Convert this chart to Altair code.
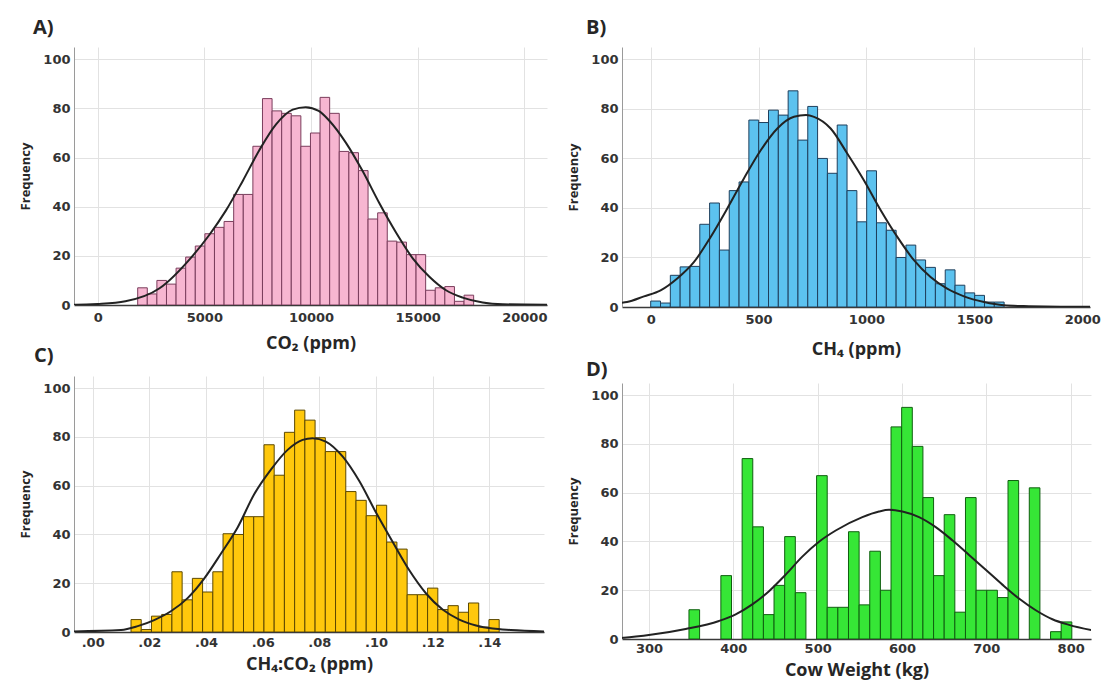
import altair as alt
import pandas as pd

# ---------------- data ----------------
# Panel A: CO2 (ppm)
CO2_BIN_START = 1875
CO2_BIN_WIDTH = 450
CO2_COUNTS = [7, 4.5, 10, 8.5, 15, 19.5, 24, 29, 31.6, 34, 45, 45, 64.6, 84, 79, 78, 77,
              64.6, 70, 84.5, 78, 62.5, 62, 54.7, 35, 37.5, 26, 25.6, 20.5, 20.5, 6, 7,
              7.5, 1.5, 4]
CO2_CURVE_X = [-1111, -1000, 0, 1300, 2900, 4450, 5230, 6015, 6800, 7576, 8360, 9140, 9750,
               10360, 10860, 11640, 12420, 13200, 13985, 14770, 15550, 16330, 17110, 18050,
               19000, 21064]
CO2_CURVE_Y = [0.1, 0.1, 0.4, 1.5, 6.8, 20, 28.5, 38.5, 50.5, 63, 73.5, 79.5, 80.5, 79, 75,
               66, 54.5, 41.5, 29.5, 19, 11.5, 6, 3, 1, 0.3, 0.1]
CO2_TICKS = [0, 5000, 10000, 15000, 20000]

# Panel B: CH4 (ppm)
CH4_BIN_START = 0
CH4_BIN_WIDTH = 45.5
CH4_COUNTS = [2.4, 1.6, 12.8, 16.2, 16.4, 33.4, 42, 23, 47, 50.5, 75.5, 74.5, 79.5, 77.5,
              87.3, 67.4, 81, 60, 54, 73.5, 47, 34.4, 55, 34, 31, 20, 25, 19, 16, 9.4, 15,
              8.8, 5.7, 4.7, 2, 2]
CH4_CURVE_X = [-133, -110, -31, 46, 123, 201, 278, 355, 432, 510, 587, 664, 720, 757, 834,
               911, 988, 1066, 1143, 1220, 1297, 1374, 1452, 1545, 1637, 1753, 1900, 2036]
CH4_CURVE_Y = [1.7, 2, 4.3, 6.7, 11.5, 18.2, 28.3, 39.8, 51.9, 63.3, 72.1, 76.8, 77.5,
               76.8, 72.1, 62, 51.2, 39.1, 28.3, 18.9, 12.1, 7.4, 4.3, 2, 0.7, 0.3, 0.1, 0.1]
CH4_TICKS = [0, 500, 1000, 1500, 2000]

# Panel C: CH4:CO2 (ppm)
RATIO_BIN_START = 0.01352
RATIO_BIN_WIDTH = 0.00361
RATIO_COUNTS = [5.1, 1, 6.5, 7.2, 24.7, 13.2, 22, 16.4, 24.7, 40.3, 40, 47.3, 47.3, 76.8,
                64.3, 81.9, 91, 86.9, 79.7, 74, 74, 57.6, 54, 47.7, 52, 36.9, 34, 15.3,
                15.3, 18, 9.2, 10.8, 8.1, 11.9, 2, 5.1]
RATIO_CURVE_X = [-0.0088, 0.0100, 0.0159, 0.0217, 0.0276, 0.0335, 0.0394, 0.0453, 0.0512,
                 0.0570, 0.0629, 0.0688, 0.0741, 0.0776, 0.0823, 0.0882, 0.0941, 0.1000,
                 0.1059, 0.1117, 0.1176, 0.1235, 0.1294, 0.1353, 0.1412, 0.1476, 0.1594]
RATIO_CURVE_Y = [0.2, 0.8, 2.4, 4.9, 8.5, 13.9, 22, 32.2, 43, 56.5, 66.6, 74.7, 78.8, 79.5,
                 78.1, 72, 61.9, 49, 36.9, 25.4, 15.9, 9.2, 5.1, 2.7, 1.4, 0.8, 0.2]
RATIO_TICKS = [0.00, 0.02, 0.04, 0.06, 0.08, 0.10, 0.12, 0.14]

# Panel D: Cow Weight (kg)
WEIGHT_BIN_START = 347.4
WEIGHT_BIN_WIDTH = 12.61
WEIGHT_COUNTS = [12, 0, 0, 26, 0, 74, 46, 10, 22, 42, 19, 0, 67, 13, 13, 44, 14, 36, 20,
                 87, 95, 79, 58, 26, 51, 11, 58, 20, 20, 17, 65, 0, 62, 0, 3, 7]
WEIGHT_CURVE_X = [268, 270.4, 303.9, 343.5, 383, 402.8, 422.5, 442.3, 462.1, 481.8, 501.6,
                  521.4, 553, 572.7, 584.6, 600.4, 620.2, 640, 659.7, 679.5, 699.3, 719,
                  738.7, 758.6, 778.3, 798, 825]
WEIGHT_CURVE_Y = [0.45, 0.5, 1.8, 4.1, 7.4, 10.1, 14.2, 19.6, 26.4, 33.8, 39.9, 44.5, 50,
                  52.3, 53, 52.3, 50, 45.9, 40.5, 34.5, 28.4, 22.3, 16.6, 11.8, 8.1, 5.8, 3.6]
WEIGHT_TICKS = [300, 400, 500, 600, 700, 800]

FREQ_TICKS = [0, 20, 40, 60, 80, 100]

TITLE_FONT = "Open Sans"
LABEL_FONT = "DejaVu Sans"
TEXT = "#262626"


def panel(letter, title_dx, title_offset, start, bw, counts, cx, cy, domain, ticks,
          xtitle, fill, stroke, width, height, label_expr=None, x_label_pad=6,
          x_title_pad=6):
    bars = pd.DataFrame({
        "x0": [start + i * bw for i in range(len(counts))],
        "x1": [start + (i + 1) * bw for i in range(len(counts))],
        "count": counts,
        "base": [0] * len(counts),
    })
    bars = bars[bars["count"] > 0]
    curve = pd.DataFrame({"cx": cx, "cy": cy})

    xaxis_kw = dict(
        values=ticks, title=xtitle, grid=True, gridColor="#e2e2e2", ticks=False,
        domainColor="#3a3a3a", domainWidth=1.5, labelFont=LABEL_FONT,
        labelFontSize=13, labelFontWeight="bold", labelColor="#333333",
        labelPadding=x_label_pad, titleFont=TITLE_FONT, titleFontSize=18,
        titleFontWeight="bold", titleColor=TEXT, titlePadding=x_title_pad,
        labelFlush=False,
    )
    if label_expr:
        xaxis_kw["labelExpr"] = label_expr
    else:
        xaxis_kw["format"] = "d"
    xscale = alt.Scale(domain=domain, nice=False, zero=False)
    yscale = alt.Scale(domain=[0, 105], nice=False)
    yaxis = alt.Axis(
        values=FREQ_TICKS, title="Frequency", grid=True, gridColor="#e2e2e2",
        ticks=False, domainColor="#9a9a9a", labelFont=LABEL_FONT, labelFontSize=13,
        labelFontWeight="bold", labelColor="#333333", labelPadding=4,
        titleFont=TITLE_FONT, titleFontSize=13, titleFontWeight="bold",
        titleColor=TEXT, titlePadding=10,
    )

    bar_layer = alt.Chart(bars).mark_bar(
        fill=fill, stroke=stroke, strokeWidth=1, clip=True
    ).encode(
        x=alt.X("x0:Q", scale=xscale, axis=alt.Axis(**xaxis_kw)),
        x2="x1:Q",
        y=alt.Y("count:Q", scale=yscale, axis=yaxis),
        y2="base:Q",
    )
    line_layer = alt.Chart(curve).mark_line(
        color="#222222", strokeWidth=2, interpolate="monotone", clip=True
    ).encode(x="cx:Q", y="cy:Q")

    return alt.layer(bar_layer, line_layer).properties(
        width=width, height=height,
        title=alt.TitleParams(
            letter, anchor="start", frame="group", font=TITLE_FONT, fontSize=20,
            fontWeight="bold", color=TEXT, dx=title_dx, offset=title_offset,
        ),
    )


pA = panel("A)", -41, 9, CO2_BIN_START, CO2_BIN_WIDTH, CO2_COUNTS, CO2_CURVE_X,
           CO2_CURVE_Y, [-1111, 21064], CO2_TICKS, "CO₂ (ppm)", "#f7b6d1", "#7a3d5c",
           473, 258, x_title_pad=10)
pB = panel("B)", -36, 9, CH4_BIN_START, CH4_BIN_WIDTH, CH4_COUNTS, CH4_CURVE_X,
           CH4_CURVE_Y, [-133, 2036], CH4_TICKS, "CH₄ (ppm)", "#5cc2ef", "#1f3f5c",
           468, 260, x_title_pad=14)
pC = panel("C)", -40, 10, RATIO_BIN_START, RATIO_BIN_WIDTH, RATIO_COUNTS, RATIO_CURVE_X,
           RATIO_CURVE_Y, [-0.0066, 0.1593], RATIO_TICKS, "CH₄:CO₂ (ppm)", "#ffc80c",
           "#5c4800", 470, 256, x_label_pad=4, x_title_pad=6,
           label_expr="substring(format(datum.value, '.2f'), 1)")
pD = panel("D)", -36, 3, WEIGHT_BIN_START, WEIGHT_BIN_WIDTH, WEIGHT_COUNTS,
           WEIGHT_CURVE_X, WEIGHT_CURVE_Y, [268, 824.1], WEIGHT_TICKS,
           "Cow Weight (kg)", "#36e636", "#0f5f0f", 469, 256, x_label_pad=3,
           x_title_pad=6)

left = alt.vconcat(pA, pC, spacing=-6)
right = alt.vconcat(pB, pD, spacing=2)

chart = alt.hconcat(left, right, spacing=20).properties(
    padding={"left": 11, "top": 10, "right": 0, "bottom": 3}
).configure_view(stroke=None)

chart.save("out.html", embed_options={"renderer": "svg", "actions": False})
